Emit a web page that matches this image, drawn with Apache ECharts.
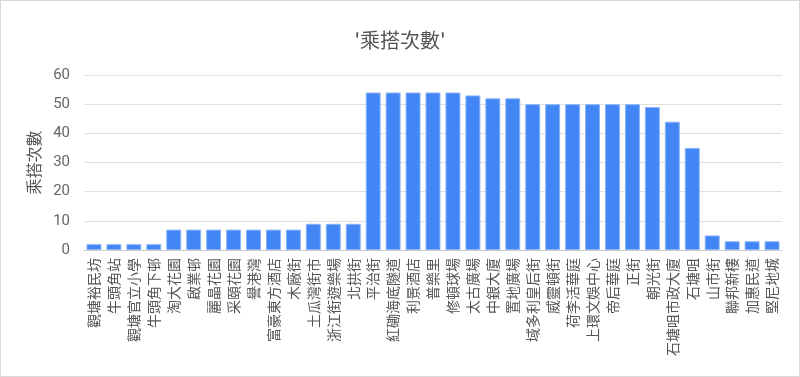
<!DOCTYPE html>
<html>
<head>
<meta charset="utf-8">
<script src="https://cdn.jsdelivr.net/npm/echarts@6/dist/echarts.min.js"></script>
<style>
  html, body { margin: 0; padding: 0; background: #fff; }
  #chart { width: 800px; height: 377px; box-sizing: border-box; border: 1px solid #d9d9d9; }
</style>
</head>
<body>
<div id="chart"></div>
<script>
// 站名
const stops = [
  '觀塘裕民坊', '牛頭角站', '觀塘官立小學', '牛頭角下邨', '淘大花園', '啟業邨', '麗晶花園',
  '采頤花園', '譽港灣', '富豪東方酒店', '木廠街', '土瓜灣街市', '浙江街遊樂場', '北拱街',
  '平治街', '紅磡海底隧道', '利景酒店', '普樂里', '修頓球場', '太古廣場', '中銀大廈',
  '置地廣場', '域多利皇后街', '威靈頓街', '荷李活華庭', '上環文娛中心', '帝后華庭', '正街',
  '朝光街', '石塘咀市政大廈', '石塘咀', '山市街', '聯邦新樓', '加惠民道', '堅尼地城'
];

// 乘搭次數
const rides = [
  2, 2, 2, 2, 7, 7, 7,
  7, 7, 7, 7, 9, 9, 9,
  54, 54, 54, 54, 54, 53, 52,
  52, 50, 50, 50, 50, 50, 50,
  49, 44, 35, 5, 3, 3, 3
];

const yTicks = [0, 10, 20, 30, 40, 50, 60];

const chart = echarts.init(document.getElementById('chart'));
const font = 'Roboto, "Noto Sans CJK TC", sans-serif';

chart.setOption({
  animation: false,
  title: {
    text: "'乘搭次數'",
    left: 'center',
    top: 24,
    textStyle: { fontSize: 20, fontWeight: 'normal', color: '#555', fontFamily: '"Noto Sans CJK TC", sans-serif' }
  },
  grid: { left: 83, right: 17, top: 74, bottom: 126 },
  xAxis: {
    type: 'category',
    data: stops,
    axisTick: { show: false },
    axisLine: { lineStyle: { color: '#ccc' } },
    axisLabel: {
      interval: 0,
      rotate: 90,
      margin: 8,
      fontSize: 14,
      color: '#555',
      fontFamily: '"Noto Sans CJK TC", sans-serif'
    }
  },
  yAxis: {
    type: 'value',
    min: yTicks[0],
    max: yTicks[yTicks.length - 1],
    interval: 10,
    name: '乘搭次數',
    nameLocation: 'middle',
    nameGap: 40,
    nameTextStyle: { fontSize: 16, color: '#555', fontFamily: '"Noto Sans CJK TC", sans-serif' },
    axisLabel: { fontSize: 15, color: '#666', margin: 14, fontFamily: font },
    splitLine: { lineStyle: { color: '#e0e0e0' } }
  },
  series: [{
    type: 'bar',
    data: rides,
    barCategoryGap: '25%',
    itemStyle: { color: '#4285f4', borderColor: '#8ab4f8', borderWidth: 1 }
  }]
});
</script>
</body>
</html>
